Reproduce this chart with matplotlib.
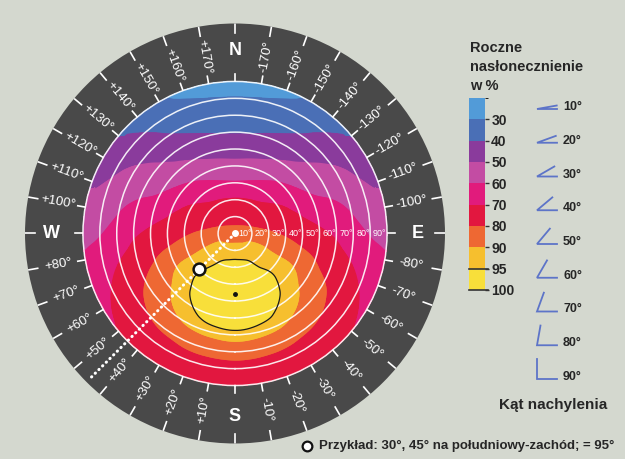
import numpy as np
import matplotlib
matplotlib.use('Agg')
import matplotlib.pyplot as plt
from matplotlib.tri import Triangulation, UniformTriRefiner
from matplotlib.colors import ListedColormap, BoundaryNorm
from matplotlib.cm import ScalarMappable
from matplotlib.transforms import Affine2D

plt.rcParams['font.family'] = ['Liberation Sans', 'DejaVu Sans']

# tilt of the surface (radius) and azimuth from south (+ = west)
tilt = [0, 10, 20, 30, 40, 50, 60, 70, 80, 90]
azimuth = [0, 15, 30, 45, 60, 75, 90, 120, 150, 180]

# yearly irradiation in %, one row per azimuth
irr_0   = [85.2, 92.4, 97.2, 99.6, 99.8, 98.0, 93.3, 84.5, 76.8, 72.9]
irr_15  = [85.2, 92.2, 96.7, 99.1, 99.2, 97.2, 92.5, 83.9, 76.6, 72.8]
irr_30  = [85.2, 91.7, 95.1, 97.3, 97.3, 95.0, 90.8, 82.6, 76.3, 72.4]
irr_45  = [85.2, 91.0, 92.6, 94.4, 94.0, 91.4, 86.7, 80.4, 75.0, 71.2]
irr_60  = [85.2, 90.2, 91.0, 90.9, 90.1, 85.5, 81.1, 76.1, 71.9, 67.7]
irr_75  = [85.2, 87.5, 87.3, 85.1, 82.0, 78.4, 74.3, 70.8, 66.6, 62.9]
irr_90  = [85.2, 84.2, 81.8, 78.7, 75.3, 72.1, 68.6, 64.0, 59.5, 57.5]
irr_120 = [85.2, 79.4, 74.9, 71.3, 65.7, 59.5, 56.0, 52.5, 48.0, 44.0]
irr_150 = [85.2, 76.8, 71.8, 64.6, 57.4, 50.3, 44.5, 39.1, 35.0, 31.0]
irr_180 = [85.2, 76.0, 70.9, 61.2, 52.9, 46.0, 39.5, 35.0, 30.5, 26.0]

levels = [30, 40, 50, 60, 70, 80, 90, 95, 100]
band_colors = ['#529bd8', '#4a6fb6', '#8a3b9c', '#c34ca3', '#e11b7c',
               '#e2173f', '#ee6833', '#f6bf2e', '#f8df3a']

ring_angles = list(range(-170, 180, 10))
compass = {180: 'N', 0: 'S', 90: 'W', -90: 'E'}
example = (45, 30)     # azimuth, tilt
optimum = (0, 36)

bg = '#d4d8cf'
ring = '#494949'
txt = '#262626'
rmax = 124.3

# full azimuth table (chart is symmetric east / west)
rows = dict(zip(azimuth, [irr_0, irr_15, irr_30, irr_45, irr_60, irr_75,
                          irr_90, irr_120, irr_150, irr_180]))
az_full = [-a for a in azimuth[::-1]] + azimuth[1:]
Z = np.array([rows[abs(a)] for a in az_full])
A, B = np.meshgrid(az_full, tilt, indexing='ij')

# (theta, r) mesh - covers the whole disc up to the rim
nt = len(tilt)
tris = []
for i in range(len(az_full) - 1):
    for j in range(nt - 1):
        p00, p01 = i * nt + j, i * nt + j + 1
        p10, p11 = (i + 1) * nt + j, (i + 1) * nt + j + 1
        if az_full[i] >= 0:
            tris += [[p00, p10, p11], [p00, p11, p01]]
        else:
            tris += [[p00, p10, p01], [p10, p11, p01]]
tri_s = Triangulation((A / 15.0).ravel(), (B / 10.0).ravel(), tris)
tri_ps, z_p = UniformTriRefiner(tri_s).refine_field(Z.ravel(), subdiv=3)
tri_p = Triangulation(np.radians(tri_ps.x * 15.0), tri_ps.y * 10.0, tri_ps.triangles)

# plane mesh of the same values - smoother shapes inside the disc
xs, ys, zs = [0.0], [0.0], [irr_0[0]]
for a in az_full[:-1]:
    for j, b in enumerate(tilt[1:], start=1):
        xs.append(-b * np.sin(np.radians(a)))
        ys.append(-b * np.cos(np.radians(a)))
        zs.append(rows[abs(a)][j])
tri_c, z_c = UniformTriRefiner(Triangulation(xs, ys)).refine_field(np.array(zs), subdiv=3)

fig = plt.figure(figsize=(6.25, 4.59), dpi=100, facecolor=bg)

# legend canvas in pixel units
lax = fig.add_axes([0, 0, 1, 1])
lax.set_xlim(0, 625)
lax.set_ylim(459, 0)
lax.axis('off')

ax = fig.add_axes([0.04, 0.0338, 0.672, 0.915], projection='polar')
ax.set_autoscale_on(False)
ax.set_theta_zero_location('S')
ax.set_theta_direction(-1)
ax.set_facecolor(ring)
ax.spines['polar'].set_visible(False)
ax.set_ylim(0, rmax)

plane = Affine2D().scale(0.5 / rmax).translate(0.5, 0.5) + ax.transAxes
fill_levels = [0] + levels[:-1] + [110]
ax.tricontourf(tri_p, z_p, levels=fill_levels, colors=band_colors, zorder=1)
ax.tricontourf(tri_c, z_c, levels=fill_levels, colors=band_colors, zorder=1.1,
               transform=plane, antialiased=True)
ax.tricontour(tri_c, z_c, levels=[95], colors='#1a1a1a', linewidths=0.9, zorder=3,
              transform=plane)
ax.set_ylim(0, rmax)

ax.set_xticks([])
ax.set_yticks(tilt[1:])
ax.set_yticklabels([])
ax.tick_params(axis='y', length=0)
ax.yaxis.grid(True, color='white', lw=1.1, alpha=0.9)
ax.set_axisbelow(False)

# ring ticks and labels
for a in ring_angles + [180]:
    t = np.radians(a)
    ax.plot([t, t], [90.3, 94.5], color='white', lw=1.2, zorder=4)
    ax.plot([t, t], [118.6, 124.3], color='white', lw=1.2, zorder=4)
    if a in compass:
        ax.text(t, 108.5, compass[a], color='white', fontsize=13, fontweight='bold',
                ha='center', va='center', zorder=5)
        continue
    phi = -90 - a
    rot = (phi + 180) % 360 - 180
    if rot > 90:
        rot -= 180
    elif rot < -90:
        rot += 180
    lab = ('+%d°' % a) if a > 0 else ('-%d°' % abs(a))
    ax.text(t, 106, lab, color='white', fontsize=9.5, rotation=rot,
            rotation_mode='anchor', ha='center', va='center', zorder=5)

# tilt labels along the east axis
for b in tilt[1:]:
    ax.text(np.radians(-90), b - 0.3, '%d°' % b, color='white', fontsize=6.5,
            ha='right', va='center', zorder=5)

# example and optimum
te = np.radians(example[0])
ax.plot([te, te], [0, 122], color='white', lw=2.2, ls=(0, (0.1, 1.6)),
        dash_capstyle='round', zorder=4)
ax.plot(0, 0, 'o', color='white', ms=4, zorder=5)
ax.plot(te, example[1], 'o', ms=8.5, mfc='white', mec='#111111', mew=1.8, zorder=6)
ax.plot(np.radians(optimum[0]), optimum[1], 'o', color='#111111', ms=2.5, zorder=6)

# colour legend
cax = fig.add_axes([0.7504, 0.3682, 0.0256, 0.4183])
cmap = ListedColormap(band_colors)
norm = BoundaryNorm([20] + levels, cmap.N)
cb = fig.colorbar(ScalarMappable(norm=norm, cmap=cmap), cax=cax,
                  spacing='uniform', ticks=levels)
cb.outline.set_visible(False)
cax.invert_yaxis()
cax.set_yticklabels([str(v) for v in levels], fontsize=10, fontweight='bold', color=txt)
cax.tick_params(length=3, width=1, color='#333333', pad=1.5)
for v in [95, 100]:
    cax.axhline(v, color='#333333', lw=1.2, xmax=1.2, clip_on=False)

lax.text(470, 48, 'Roczne', fontsize=10.5, fontweight='bold', color=txt, va='center')
lax.text(470, 67, 'nasłonecznienie', fontsize=10.5, fontweight='bold', color=txt, va='center')
lax.text(470, 86, 'w %', fontsize=10.5, fontweight='bold', color=txt, va='center')

# tilt legend
for i, b in enumerate(tilt[1:]):
    y = 107 + 33.75 * i
    vx, vy = 537, y + 2
    tb = np.radians(b)
    lax.plot([vx + 20, vx, vx + 20 * np.cos(tb)], [vy, vy, vy - 20 * np.sin(tb)],
             color='#5d74c8', lw=1.3, solid_joinstyle='miter')
    lax.text(563, y, '%d°' % b, fontsize=9, fontweight='bold', color=txt, va='center')

lax.text(553, 405, 'Kąt nachylenia', fontsize=11, fontweight='bold', color=txt,
         ha='center', va='center')

lax.plot(307, 446, 'o', ms=7, mfc='white', mec='#111111', mew=1.6)
lax.text(319, 446, 'Przykład: 30°, 45° na południowy-zachód; = 95°', fontsize=9.5,
         fontweight='bold', color=txt, ha='left', va='center')

fig.savefig('out.png', dpi=100, facecolor=fig.get_facecolor())
